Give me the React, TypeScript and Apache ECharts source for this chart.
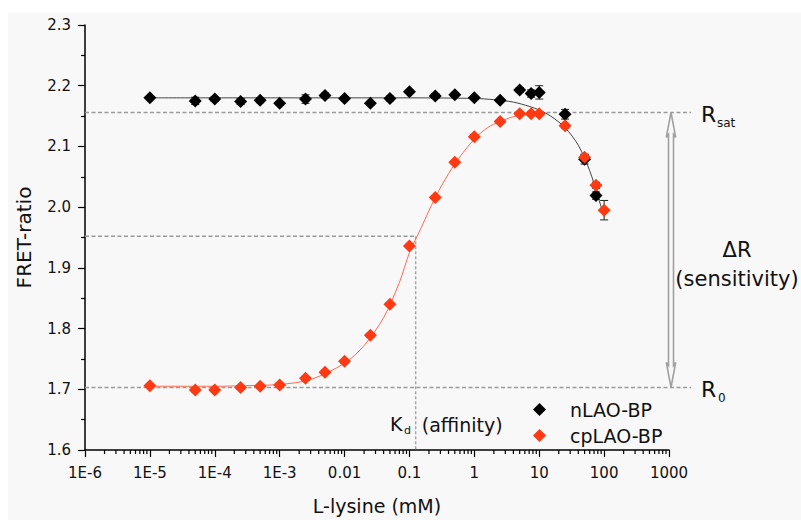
import React, { useEffect, useRef } from 'react';
import * as echarts from 'echarts';

// ---- data ----
const blackX = [1e-5, 5e-5, 1e-4, 2.5e-4, 5e-4, 1e-3, 2.5e-3, 5e-3, 0.01, 0.025, 0.05, 0.1, 0.25, 0.5, 1, 2.5, 5, 7.5, 10, 25, 50, 75];
const blackY = [2.180, 2.175, 2.178, 2.174, 2.176, 2.171, 2.178, 2.184, 2.179, 2.171, 2.179, 2.190, 2.183, 2.185, 2.180, 2.176, 2.193, 2.187, 2.189, 2.153, 2.079, 2.019];
const blackErr = [0.002, 0.006, 0.004, 0.005, 0.004, 0.003, 0.007, 0.004, 0.003, 0.003, 0.004, 0.003, 0.004, 0.003, 0.003, 0.003, 0.004, 0.006, 0.011, 0.008, 0.008, 0.006];

const redX = [1e-5, 5e-5, 1e-4, 2.5e-4, 5e-4, 1e-3, 2.5e-3, 5e-3, 0.01, 0.025, 0.05, 0.1, 0.25, 0.5, 1, 2.5, 5, 7.5, 10, 25, 50, 75, 100];
const redY = [1.706, 1.699, 1.699, 1.703, 1.705, 1.707, 1.718, 1.728, 1.746, 1.789, 1.840, 1.936, 2.016, 2.074, 2.116, 2.141, 2.154, 2.154, 2.154, 2.134, 2.082, 2.036, 1.995];
const redErr = [0.003, 0.003, 0.003, 0.003, 0.003, 0.003, 0.003, 0.003, 0.003, 0.003, 0.003, 0.003, 0.003, 0.003, 0.003, 0.003, 0.003, 0.003, 0.003, 0.004, 0.005, 0.005, 0.016];

// fitted curves
const blackFitX = [1e-5, 1e-3, 0.1, 1, 2, 4, 7, 10, 15, 25, 40, 60, 80, 100];
const blackFitY = [2.180, 2.180, 2.180, 2.179, 2.177, 2.173, 2.166, 2.160, 2.150, 2.131, 2.102, 2.060, 2.018, 1.985];

const redFitX = [1e-5, 1e-4, 3e-4, 1e-3, 3e-3, 0.01, 0.02, 0.04, 0.07, 0.1, 0.15, 0.25, 0.4, 0.6, 1, 1.6, 2.5, 4, 6, 10];
const redFitY = [1.705, 1.705, 1.706, 1.708, 1.716, 1.743, 1.772, 1.818, 1.876, 1.925, 1.965, 2.016, 2.055, 2.083, 2.112, 2.131, 2.141, 2.149, 2.152, 2.153];

const xTickValues = [1e-6, 1e-5, 1e-4, 1e-3, 0.01, 0.1, 1, 10, 100, 1000];
const xTickLabels = ['1E-6', '1E-5', '1E-4', '1E-3', '0.01', '0.1', '1', '10', '100', '1000'];
const yMin = 1.6;
const yMax = 2.3;
const yInterval = 0.1;

const rSat = 2.156;
const r0 = 1.703;
const kd = 0.125;
const kdY = 1.952;

const seriesNames = ['nLAO-BP', 'cpLAO-BP'];

const FONT = '"DejaVu Sans", "Liberation Sans", sans-serif';
const TEXT = '#111';

const minorTicksX: number[] = [];
for (let i = 0; i < xTickValues.length - 1; i++) {
  for (let k = 2; k <= 9; k++) minorTicksX.push(xTickValues[i] * k);
}

function buildOption(): any {
  const xMin = xTickValues[0];
  const xMax = xTickValues[xTickValues.length - 1];
  const dash = { stroke: '#9a9a9a', lineWidth: 1.5, lineDash: [4, 2.5] };

  return {
    animation: false,
    graphic: [
      { type: 'rect', z: -10, silent: true, shape: { x: 8, y: 13, width: 793, height: 507 }, style: { fill: '#f8f8f8' } },
    ],
    grid: { left: 85, right: 132, top: 25, bottom: 66, containLabel: false },
    legend: {
      data: seriesNames,
      orient: 'vertical',
      left: 528,
      top: 395,
      icon: 'diamond',
      itemWidth: 13,
      itemHeight: 13,
      itemGap: 7,
      itemStyle: { opacity: 1 },
      textStyle: { fontFamily: FONT, fontSize: 19, color: TEXT, padding: [0, 0, 0, 19] },
    },
    xAxis: {
      type: 'log',
      logBase: 10,
      min: xMin,
      max: xMax,
      splitNumber: 9,
      name: 'L-lysine (mM)',
      nameLocation: 'middle',
      nameGap: 46,
      nameTextStyle: { fontFamily: FONT, fontSize: 19, color: TEXT },
      axisLine: { show: true, onZero: false, lineStyle: { color: '#000', width: 1.5 } },
      axisTick: { show: true, inside: false, length: 7, lineStyle: { color: '#000', width: 1.2 } },
      splitLine: { show: false },
      axisLabel: {
        margin: 15,
        fontFamily: FONT,
        fontSize: 15,
        color: TEXT,
        showMinLabel: true,
        showMaxLabel: true,
        formatter: (v: number) => {
          const idx = xTickValues.findIndex((t) => Math.abs(Math.log10(t) - Math.log10(v)) < 1e-6);
          return idx >= 0 ? xTickLabels[idx] : '';
        },
      },
    },
    yAxis: {
      type: 'value',
      min: yMin,
      max: yMax,
      interval: yInterval,
      name: 'FRET-ratio',
      nameLocation: 'middle',
      nameGap: 51,
      nameTextStyle: { fontFamily: FONT, fontSize: 20, color: TEXT },
      axisLine: { show: true, lineStyle: { color: '#000', width: 1.5 } },
      axisTick: { show: true, inside: false, length: 7, lineStyle: { color: '#000', width: 1.2 } },
      minorTick: { show: true, splitNumber: 2, length: 4, lineStyle: { color: '#000', width: 1.2 } },
      splitLine: { show: false },
      axisLabel: {
        margin: 14,
        fontFamily: FONT,
        fontSize: 15,
        color: TEXT,
        formatter: (v: number) => v.toFixed(1),
      },
    },
    series: [
      {
        name: 'nLAO-BP fit',
        type: 'line',
        data: blackFitX.map((x, i) => [x, blackFitY[i]]),
        showSymbol: false,
        symbol: 'none',
        smooth: 0.3,
        silent: true,
        lineStyle: { color: '#444', width: 1 },
        z: 2,
      },
      {
        name: 'cpLAO-BP fit',
        type: 'line',
        data: redFitX.map((x, i) => [x, redFitY[i]]),
        showSymbol: false,
        symbol: 'none',
        smooth: 0.3,
        silent: true,
        lineStyle: { color: '#ff6a50', width: 1 },
        z: 2,
      },
      {
        name: 'errors',
        type: 'custom',
        silent: true,
        z: 3,
        encode: { x: 0, y: [1, 2] },
        data: [
          ...blackX.map((x, i) => [x, blackY[i] - blackErr[i], blackY[i] + blackErr[i]]),
          ...redX.map((x, i) => [x, redY[i] - redErr[i], redY[i] + redErr[i]]),
        ],
        renderItem: (params: any, api: any) => {
          const x = api.value(0);
          const p1 = api.coord([x, api.value(2)]);
          const p2 = api.coord([x, api.value(1)]);
          const cap = 4;
          const st = { stroke: '#222', lineWidth: 1 };
          return {
            type: 'group',
            children: [
              { type: 'line', shape: { x1: p1[0], y1: p1[1], x2: p2[0], y2: p2[1] }, style: st },
              { type: 'line', shape: { x1: p1[0] - cap, y1: p1[1], x2: p1[0] + cap, y2: p1[1] }, style: st },
              { type: 'line', shape: { x1: p2[0] - cap, y1: p2[1], x2: p2[0] + cap, y2: p2[1] }, style: st },
            ],
          };
        },
      },
      {
        name: seriesNames[0],
        type: 'scatter',
        data: blackX.map((x, i) => [x, blackY[i]]),
        symbol: 'diamond',
        symbolSize: 13,
        itemStyle: { color: '#000', opacity: 1 },
        z: 4,
      },
      {
        name: seriesNames[1],
        type: 'scatter',
        data: redX.map((x, i) => [x, redY[i]]),
        symbol: 'diamond',
        symbolSize: 13,
        itemStyle: { color: '#ff3a12', opacity: 1 },
        z: 5,
      },
      {
        name: 'minor x ticks',
        type: 'custom',
        silent: true,
        z: 6,
        data: minorTicksX.map((x) => [x, yMin]),
        renderItem: (params: any, api: any) => {
          const p = api.coord([api.value(0), yMin]);
          return { type: 'line', shape: { x1: p[0], y1: p[1], x2: p[0], y2: p[1] + 4 }, style: { stroke: '#000', lineWidth: 1.2 } };
        },
      },
      {
        name: 'annotations',
        type: 'custom',
        silent: true,
        z: 1,
        data: [[1, 2]],
        renderItem: (params: any, api: any) => {
          const [x0, yS] = api.coord([xMin, rSat]);
          const xEnd = api.coord([xMax, rSat])[0];
          const y0 = api.coord([xMin, r0])[1];
          const [xk, yk] = api.coord([kd, kdY]);
          const yBottom = api.coord([kd, yMin])[1];
          const lineEnd = xEnd + 22;
          const ax = xEnd + 2;
          const hw = 4.7;
          const sw = 2.5;
          const hl = 25;
          const arrowPts = [
            [ax, yS], [ax + hw, yS + hl], [ax + sw, yS + hl - 3], [ax + sw, y0 - hl + 3], [ax + hw, y0 - hl],
            [ax, y0], [ax - hw, y0 - hl], [ax - sw, y0 - hl + 3], [ax - sw, yS + hl - 3], [ax - hw, yS + hl],
          ];
          const txt = (text: string, x: number, y: number, size: number, align = 'left') => ({
            type: 'text',
            x,
            y,
            style: { text, fill: TEXT, font: `${size}px ${FONT}`, align, verticalAlign: 'middle' },
          });
          return {
            type: 'group',
            children: [
              { type: 'line', shape: { x1: x0, y1: yS, x2: lineEnd, y2: yS }, style: dash },
              { type: 'line', shape: { x1: x0, y1: y0, x2: lineEnd, y2: y0 }, style: dash },
              { type: 'line', shape: { x1: x0, y1: yk, x2: xk, y2: yk }, style: dash },
              { type: 'line', shape: { x1: xk, y1: yk, x2: xk, y2: yBottom }, style: { stroke: '#9a9a9a', lineWidth: 1.2, lineDash: [3, 2] } },
              { type: 'polygon', shape: { points: arrowPts }, style: { fill: 'none', stroke: '#a0a0a0', lineWidth: 1.6 } },
              txt('R', xEnd + 32, yS + 2, 22),
              txt('sat', xEnd + 48, yS + 11, 12),
              txt('R', xEnd + 32, y0 + 2, 22),
              txt('0', xEnd + 49, y0 + 11, 12),
              txt('ΔR', xEnd + 68, (yS + y0) / 2, 21, 'center'),
              txt('(sensitivity)', xEnd + 68, (yS + y0) / 2 + 28.6, 21, 'center'),
              txt('K', xk - 25.7, yBottom - 26, 19),
              txt('d', xk - 11.7, yBottom - 20, 11),
              txt('(affinity)', xk + 6, yBottom - 25, 19),
            ],
          };
        },
      },
    ],
  };
}

export default function App() {
  const ref = useRef<HTMLDivElement>(null);
  useEffect(() => {
    if (!ref.current) return;
    const chart = echarts.init(ref.current, null, { renderer: 'svg' });
    chart.setOption(buildOption());
    return () => {
      chart.dispose();
    };
  }, []);
  return <div ref={ref} style={{ position: 'absolute', left: 0, top: 0, width: 801, height: 520 }} />;
}
